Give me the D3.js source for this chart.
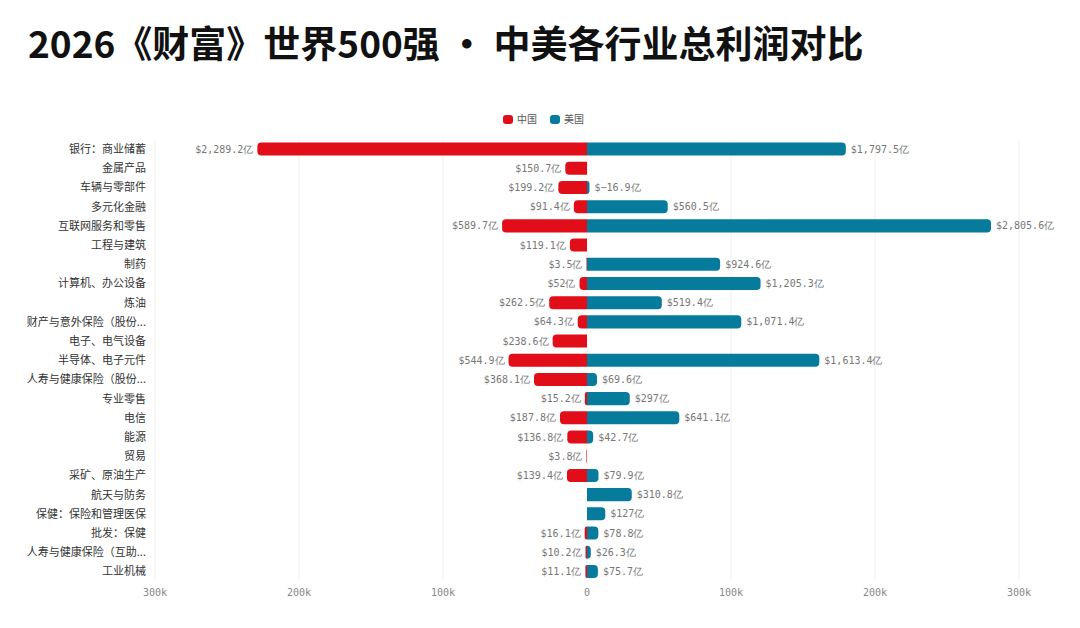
<!DOCTYPE html>
<html><head><meta charset="utf-8">
<script src="https://cdn.jsdelivr.net/npm/d3@7"></script>
<style>body{margin:0;background:#fff;font-family:"Noto Sans CJK SC","Noto Sans",sans-serif;}</style>
</head><body><div id="chart"></div>
<script>
var categories = ["银行：商业储蓄","金属产品","车辆与零部件","多元化金融","互联网服务和零售","工程与建筑","制药","计算机、办公设备","炼油","财产与意外保险（股份...","电子、电气设备","半导体、电子元件","人寿与健康保险（股份...","专业零售","电信","能源","贸易","采矿、原油生产","航天与防务","保健：保险和管理医保","批发：保健","人寿与健康保险（互助...","工业机械"];
// 单位：亿美元，null 表示无数据
var chinaValues = [2289.2,150.7,199.2,91.4,589.7,119.1,3.5,52,262.5,64.3,238.6,544.9,368.1,15.2,187.8,136.8,3.8,139.4,null,null,16.1,10.2,11.1];
var usValues = [1797.5,null,-16.9,560.5,2805.6,null,924.6,1205.3,519.4,1071.4,null,1613.4,69.6,297,641.1,42.7,null,79.9,310.8,127,78.8,26.3,75.7];
var ticks = [-300000,-200000,-100000,0,100000,200000,300000];

var W = 1080, H = 628;
var svg = d3.select("#chart").append("svg").attr("width", W).attr("height", H);
var red = "#e10e19", blue = "#067b9c";

svg.append("text").attr("x", 28).attr("y", 58).text("2026《财富》世界500强 · 中美各行业总利润对比")
  .attr("font-size", 37).attr("font-weight", 700).attr("fill", "#111");

var x = d3.scaleLinear().domain([-300000, 300000]).range([155, 1019]);
var y = d3.scaleBand().domain(categories).range([139.5, 581]).paddingInner(0.32).paddingOuter(0.16);

var grid = svg.append("g");
grid.selectAll("line").data(ticks).enter().append("line")
  .attr("x1", function(d){ return x(d); }).attr("x2", function(d){ return x(d); })
  .attr("y1", 140).attr("y2", 581).attr("stroke", "#f0f0f0");
grid.selectAll("text").data(ticks).enter().append("text")
  .attr("x", function(d){ return x(d); }).attr("y", 596).attr("text-anchor", "middle")
  .attr("font-family", "DejaVu Sans Mono").attr("font-size", 10).attr("fill", "#888")
  .text(function(d){ return d === 0 ? "0" : Math.abs(d/1000) + "k"; });

svg.append("g").selectAll("text").data(categories).enter().append("text")
  .attr("x", 146).attr("y", function(d){ return y(d) + y.bandwidth()/2 + 4; })
  .attr("text-anchor", "end").attr("font-size", 11).attr("fill", "#333").text(function(d){ return d; });

function barPath(x0, x1, yt, h, r){
  var dir = x1 >= x0 ? 1 : -1, w = Math.abs(x1 - x0);
  r = Math.min(r, w, h/2);
  return "M" + x0 + "," + yt + "H" + (x1 - dir*r) +
    "A" + r + "," + r + " 0 0 " + (dir > 0 ? 1 : 0) + " " + x1 + "," + (yt + r) +
    "V" + (yt + h - r) +
    "A" + r + "," + r + " 0 0 " + (dir > 0 ? 1 : 0) + " " + (x1 - dir*r) + "," + (yt + h) +
    "H" + x0 + "Z";
}
function fmt(v){ return "$" + d3.format(",")(v) + "亿"; }

var rows = categories.map(function(c, i){ return {c: c, cn: chinaValues[i], us: usValues[i]}; });
var bars = svg.append("g");
rows.forEach(function(d){
  var yt = y(d.c), h = y.bandwidth(), ym = yt + h/2 + 3.5;
  if (d.cn !== null) {
    var xe = x(-d.cn * 100);
    bars.append("path").attr("d", barPath(x(0), xe, yt, h, 4)).attr("fill", red);
    bars.append("text").attr("x", xe - 4).attr("y", ym).attr("text-anchor", "end")
      .attr("font-family", "DejaVu Sans Mono").attr("font-size", 10).attr("fill", "#777").text(fmt(d.cn));
  }
  if (d.us !== null) {
    var xu = x(Math.abs(d.us) * 100);
    bars.append("path").attr("d", barPath(x(0), xu, yt, h, 4)).attr("fill", blue);
    bars.append("text").attr("x", xu + 5).attr("y", ym)
      .attr("font-family", "DejaVu Sans Mono").attr("font-size", 10).attr("fill", "#777").text(fmt(d.us));
  }
});

var lg = svg.append("g").attr("transform", "translate(503,119)");
[["中国", red, 0], ["美国", blue, 47]].forEach(function(l){
  lg.append("rect").attr("x", l[2]).attr("y", -4).attr("width", 10).attr("height", 9).attr("rx", 3).attr("fill", l[1]);
  lg.append("text").attr("x", l[2] + 14).attr("y", 4).attr("font-size", 10).attr("fill", "#555").text(l[0]);
});
</script></body></html>
